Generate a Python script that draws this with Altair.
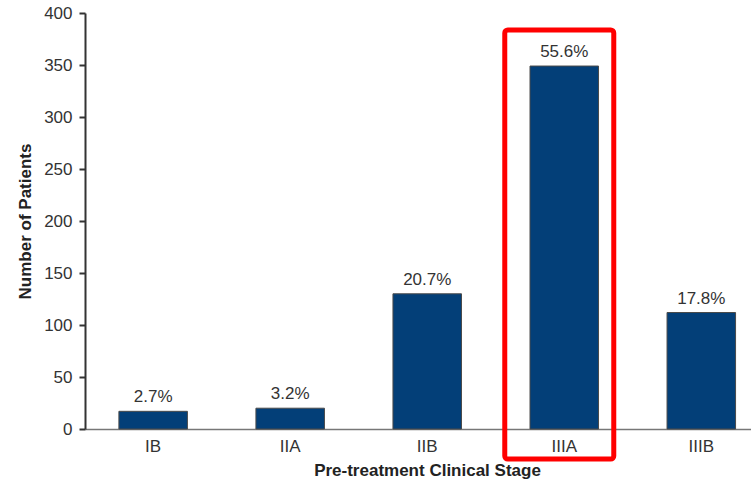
import altair as alt
import pandas as pd

stages = ["IB", "IIA", "IIB", "IIIA", "IIIB"]
patients = [17, 20, 130, 349, 112]
percent_labels = ["2.7%", "3.2%", "20.7%", "55.6%", "17.8%"]
highlight_stage = ["IIIA"]

df = pd.DataFrame({"stage": stages, "patients": patients, "pct": percent_labels})
hl = pd.DataFrame({"stage": highlight_stage})

FONT = "Liberation Sans"

x_scale = alt.Scale(domain=stages, paddingInner=0.5, paddingOuter=0.18, align=0.687)
y_scale = alt.Scale(domain=[0, 400])

x_enc = alt.X(
    "stage:N", scale=x_scale, sort=stages,
    axis=alt.Axis(
        title="Pre-treatment Clinical Stage", labelAngle=0, ticks=False,
        labelPadding=9, labelFontSize=17, labelColor="#333333", labelFont=FONT,
        titleFontSize=17, titleFont=FONT, titleFontWeight="bold", titleColor="#222222",
        titlePadding=8, titleX=342,
        domainColor="#777777", domainWidth=1.5,
    ),
)

bars = alt.Chart(df).mark_bar(
    color="#033f78", stroke="#4a4a4a", strokeWidth=1
).encode(
    x=x_enc,
    y=alt.Y(
        "patients:Q", scale=y_scale,
        axis=alt.Axis(
            title="Number of Patients", values=list(range(0, 401, 50)), grid=False,
            tickSize=6, tickWidth=2, tickColor="#333333",
            labelPadding=7, labelFontSize=17, labelColor="#333333", labelFont=FONT,
            titleFontSize=17, titleFont=FONT, titleFontWeight="bold", titleColor="#222222",
            titlePadding=9,
            domainColor="#333333", domainWidth=2,
        ),
    ),
)

labels = alt.Chart(df).mark_text(
    baseline="bottom", dy=-5, fontSize=17, font=FONT, color="#333333"
).encode(
    x=alt.X("stage:N", scale=x_scale, sort=stages),
    y=alt.Y("patients:Q", scale=y_scale),
    text="pct:N",
)

box = alt.Chart(hl).mark_bar(
    width=109, fillOpacity=0, stroke="#ff0000", strokeWidth=5, cornerRadius=3, xOffset=-5
).encode(
    x=alt.X("stage:N", scale=x_scale, sort=stages),
    y=alt.value(17),
    y2=alt.value(446),
)

chart = alt.layer(bars, labels, box).properties(
    width=666, height=416,
    padding={"left": 85, "top": 13, "right": 0, "bottom": 52},
    autosize=alt.AutoSizeParams(type="none"),
    background="white",
).configure_view(stroke=None)

chart.save("out.html", embed_options={"renderer": "svg", "actions": False})
